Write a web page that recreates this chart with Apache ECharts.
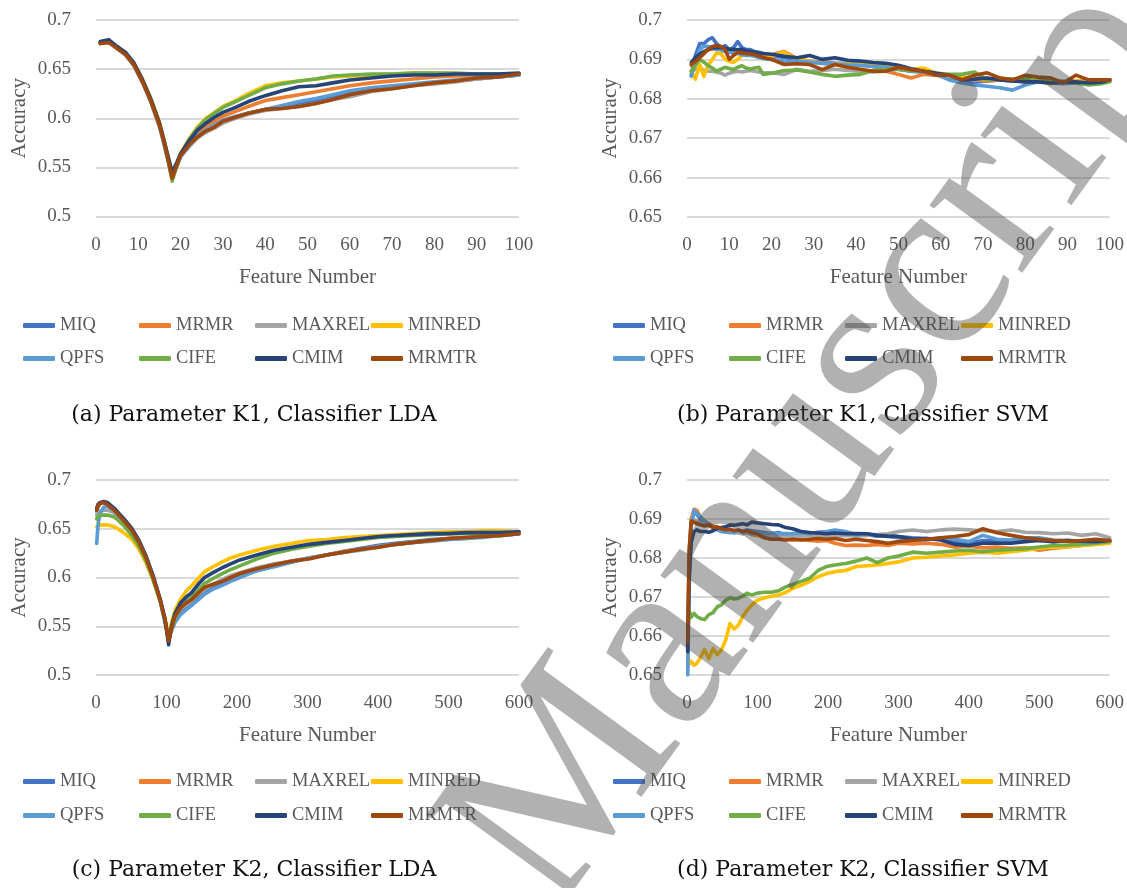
<!DOCTYPE html>
<html>
<head>
<meta charset="utf-8">
<script src="https://cdn.jsdelivr.net/npm/echarts@6/dist/echarts.min.js"></script>
<style>
  html, body { margin: 0; padding: 0; background: #ffffff; }
  #chart { width: 1127px; height: 888px; }
</style>
</head>
<body>
<div id="chart"></div>
<script>
// Feature-selection methods and their line colours
const methods = ['MIQ', 'MRMR', 'MAXREL', 'MINRED', 'QPFS', 'CIFE', 'CMIM', 'MRMTR'];
const methodColors = ['#4472C4', '#ED7D31', '#A5A5A5', '#FFC000', '#5B9BD5', '#70AD47', '#264478', '#9E480E'];

// ---------- (a) Parameter K1, Classifier LDA ----------
const featK1Lda = [1,3,5,7,9,11,13,15,16,17,18,19,20,22,24,26,28,30,33,36,40,44,48,52,56,60,65,70,75,80,85,90,95,100];
const k1LdaMIQ    = [0.677,0.679,0.672,0.665,0.654,0.637,0.617,0.592,0.576,0.558,0.540,0.551,0.562, 0.572,0.582,0.588,0.592,0.597,0.601,0.605,0.609,0.612,0.615,0.618,0.622,0.626,0.630,0.632,0.634,0.636,0.638,0.640,0.642,0.644];
const k1LdaMRMR   = [0.677,0.678,0.672,0.665,0.655,0.638,0.618,0.594,0.577,0.559,0.539,0.551,0.562, 0.575,0.585,0.592,0.597,0.602,0.607,0.612,0.618,0.621,0.624,0.627,0.630,0.633,0.636,0.638,0.640,0.642,0.643,0.643,0.644,0.645];
const k1LdaMAXREL = [0.676,0.678,0.671,0.664,0.653,0.636,0.616,0.591,0.575,0.557,0.540,0.550,0.561, 0.571,0.580,0.586,0.590,0.595,0.600,0.604,0.608,0.610,0.612,0.615,0.619,0.622,0.627,0.630,0.633,0.635,0.637,0.640,0.642,0.644];
const k1LdaMINRED = [0.677,0.679,0.673,0.666,0.656,0.640,0.620,0.596,0.579,0.561,0.539,0.553,0.564, 0.579,0.591,0.600,0.606,0.612,0.618,0.625,0.633,0.636,0.638,0.640,0.642,0.643,0.644,0.645,0.646,0.646,0.645,0.645,0.645,0.645];
const k1LdaQPFS   = [0.677,0.678,0.672,0.665,0.654,0.637,0.617,0.593,0.576,0.558,0.540,0.550,0.561, 0.572,0.582,0.588,0.593,0.598,0.602,0.605,0.609,0.613,0.617,0.620,0.624,0.628,0.631,0.633,0.635,0.637,0.639,0.641,0.642,0.644];
const k1LdaCIFE   = [0.677,0.678,0.672,0.665,0.655,0.638,0.618,0.594,0.577,0.558,0.536,0.550,0.563, 0.578,0.590,0.599,0.605,0.611,0.617,0.623,0.631,0.635,0.638,0.640,0.643,0.644,0.645,0.645,0.646,0.646,0.646,0.645,0.645,0.645];
const k1LdaCMIM   = [0.678,0.680,0.673,0.667,0.656,0.639,0.619,0.595,0.579,0.562,0.545,0.554,0.564, 0.577,0.588,0.595,0.601,0.606,0.611,0.617,0.623,0.628,0.632,0.633,0.636,0.639,0.641,0.643,0.644,0.644,0.645,0.645,0.645,0.646];
const k1LdaMRMTR  = [0.676,0.677,0.671,0.665,0.654,0.637,0.617,0.593,0.577,0.559,0.539,0.551,0.562, 0.573,0.581,0.587,0.591,0.597,0.601,0.605,0.609,0.610,0.612,0.615,0.619,0.624,0.628,0.630,0.633,0.636,0.638,0.641,0.642,0.645];

// ---------- (b) Parameter K1, Classifier SVM ----------
const featK1Svm = [1,2,3,4,5,6,7,8,9,10,11,12,13,14,15,16,17,18,20,23,26,29,32,35,38,41,44,47,50,53,56,59,62,65,68,71,74,77,80,83,86,89,92,95,98,100];
const k1SvmMIQ    = [0.686,0.691,0.694,0.694,0.695,0.6955,0.694,0.693,0.6935,0.6925, 0.693,0.6945,0.693,0.6925,0.6925,0.692,0.6918,0.6915, 0.691,0.6905,0.690,0.6895,0.6893,0.689,0.689,0.6888,0.6882,0.688, 0.6875,0.687,0.6868,0.686,0.6855,0.6845,0.6842,0.6845,0.6848,0.6845, 0.6845,0.6843,0.6845,0.6842,0.684,0.6843,0.6848,0.6848];
const k1SvmMRMR   = [0.6885,0.689,0.6905,0.6915,0.6925,0.6925,0.693,0.6925,0.692,0.6918, 0.692,0.692,0.6918,0.6915,0.6915,0.6915,0.691,0.6908, 0.6912,0.692,0.6902,0.6895,0.6892,0.6888,0.6888,0.6885,0.6883,0.687, 0.6862,0.6853,0.6862,0.686,0.6858,0.6852,0.6848,0.6845,0.6848,0.6848, 0.6848,0.6852,0.6848,0.684,0.6845,0.6845,0.6847,0.6848];
const k1SvmMAXREL = [0.687,0.6875,0.6878,0.6872,0.687,0.687,0.6868,0.6865,0.686,0.6865, 0.6868,0.687,0.6868,0.687,0.6872,0.687,0.6868,0.6866, 0.6866,0.6862,0.6875,0.687,0.6872,0.6875,0.6872,0.687,0.6868,0.687, 0.6875,0.6872,0.687,0.6862,0.6858,0.685,0.6848,0.685,0.685,0.6848, 0.685,0.6848,0.6847,0.6845,0.6845,0.6845,0.6848,0.6848];
const k1SvmMINRED = [0.687,0.685,0.6887,0.6857,0.6885,0.690,0.6916,0.6915,0.690,0.6895, 0.6893,0.690,0.691,0.6916,0.6912,0.691,0.6905,0.6905, 0.6908,0.6918,0.6898,0.6895,0.689,0.6888,0.6888,0.6887,0.6885,0.6882, 0.6878,0.6875,0.6878,0.6865,0.6858,0.6855,0.6852,0.685,0.685,0.6848, 0.685,0.6845,0.6838,0.6842,0.6845,0.6845,0.6847,0.6848];
const k1SvmQPFS   = [0.6857,0.6895,0.6925,0.6933,0.6933,0.693,0.6925,0.6925,0.692,0.6918, 0.6916,0.6915,0.6912,0.691,0.691,0.6908,0.6905,0.6902, 0.690,0.6895,0.6895,0.6893,0.689,0.6888,0.6886,0.6885,0.6882,0.688, 0.6875,0.687,0.6868,0.6862,0.6848,0.684,0.6835,0.6832,0.6828,0.6822, 0.6835,0.6843,0.684,0.6838,0.684,0.6842,0.6845,0.6845];
const k1SvmCIFE   = [0.687,0.6885,0.690,0.6893,0.6884,0.6878,0.687,0.6875,0.688,0.6877, 0.6874,0.688,0.6884,0.6878,0.6875,0.6878,0.688,0.6862, 0.6865,0.6872,0.6873,0.6868,0.6862,0.6857,0.686,0.6862,0.6872,0.6875, 0.6875,0.6872,0.687,0.6865,0.6862,0.6862,0.6868,0.6848,0.6852,0.685, 0.685,0.6848,0.6845,0.6842,0.684,0.6835,0.6838,0.6843];
const k1SvmCMIM   = [0.6892,0.6905,0.6913,0.692,0.6925,0.693,0.693,0.693,0.6928,0.6926, 0.6925,0.6925,0.6925,0.6922,0.692,0.6918,0.6916,0.6915, 0.6913,0.6908,0.6904,0.691,0.690,0.6904,0.6898,0.6896,0.6892,0.689, 0.6885,0.6876,0.687,0.6865,0.686,0.6848,0.685,0.6853,0.6848,0.6845, 0.6843,0.6843,0.684,0.6842,0.6843,0.684,0.6842,0.6848];
const k1SvmMRMTR  = [0.6887,0.6895,0.6904,0.6915,0.6925,0.6933,0.6935,0.6933,0.6925,0.690, 0.691,0.6918,0.6916,0.6915,0.6914,0.6912,0.6908,0.6905, 0.690,0.6887,0.6889,0.6887,0.6874,0.6887,0.688,0.6875,0.687,0.687, 0.688,0.6874,0.687,0.686,0.686,0.6848,0.686,0.6866,0.6853,0.6848, 0.686,0.6855,0.6853,0.684,0.686,0.6848,0.6848,0.6848];

// ---------- (c) Parameter K2, Classifier LDA ----------
const featK2Lda = [1,3,6,11,16,21,26,31,41,51,61,71,81,91,98,103,107,112,120,128,135,145,154,166,179,191,204,228,253,278,302,327,352,376,401,425,450,475,500,525,549,575,600];
const k2LdaMIQ    = [0.668,0.673,0.676,0.677,0.675,0.672,0.669,0.665,0.657,0.648,0.636,0.620,0.600,0.577,0.555,0.535, 0.546,0.556,0.565,0.570,0.573, 0.579,0.585,0.590,0.594,0.598,0.602,0.607,0.612,0.616,0.620,0.623,0.627,0.630,0.633,0.635,0.637,0.639,0.640,0.641,0.642,0.643,0.645];
const k2LdaMRMR   = [0.670,0.675,0.676,0.677,0.675,0.672,0.669,0.665,0.657,0.648,0.636,0.620,0.600,0.577,0.556,0.535, 0.548,0.559,0.568,0.573,0.576, 0.583,0.589,0.593,0.597,0.601,0.604,0.609,0.613,0.617,0.620,0.623,0.627,0.629,0.632,0.634,0.636,0.638,0.640,0.641,0.643,0.644,0.645];
const k2LdaMAXREL = [0.664,0.667,0.668,0.669,0.669,0.668,0.666,0.663,0.656,0.646,0.634,0.619,0.599,0.576,0.555,0.536, 0.547,0.559,0.568,0.572,0.576, 0.583,0.588,0.593,0.598,0.602,0.605,0.610,0.614,0.617,0.620,0.623,0.626,0.628,0.631,0.634,0.636,0.637,0.639,0.640,0.642,0.643,0.645];
const k2LdaMINRED = [0.652,0.654,0.654,0.654,0.654,0.653,0.652,0.650,0.645,0.639,0.629,0.615,0.597,0.576,0.557,0.540, 0.553,0.566,0.578,0.586,0.591, 0.599,0.606,0.611,0.616,0.620,0.623,0.628,0.632,0.635,0.638,0.639,0.641,0.642,0.643,0.644,0.645,0.646,0.647,0.647,0.648,0.648,0.647];
const k2LdaQPFS   = [0.635,0.655,0.666,0.672,0.673,0.671,0.668,0.664,0.656,0.647,0.635,0.619,0.599,0.576,0.553,0.538, 0.545,0.554,0.562,0.567,0.571, 0.577,0.583,0.588,0.592,0.596,0.600,0.607,0.611,0.616,0.620,0.623,0.626,0.629,0.632,0.634,0.636,0.638,0.639,0.640,0.641,0.643,0.645];
const k2LdaCIFE   = [0.660,0.663,0.664,0.664,0.664,0.663,0.662,0.659,0.652,0.643,0.632,0.617,0.598,0.576,0.556,0.537, 0.546,0.558,0.569,0.575,0.579, 0.587,0.594,0.599,0.604,0.608,0.612,0.619,0.625,0.629,0.632,0.635,0.637,0.639,0.641,0.642,0.643,0.644,0.645,0.645,0.646,0.646,0.646];
const k2LdaCMIM   = [0.671,0.675,0.677,0.678,0.677,0.674,0.671,0.667,0.659,0.650,0.638,0.622,0.602,0.578,0.557,0.531, 0.550,0.563,0.574,0.580,0.584, 0.593,0.600,0.605,0.610,0.614,0.618,0.623,0.628,0.631,0.634,0.636,0.638,0.640,0.642,0.643,0.644,0.645,0.645,0.646,0.646,0.646,0.647];
const k2LdaMRMTR  = [0.669,0.674,0.676,0.677,0.675,0.672,0.669,0.665,0.657,0.648,0.636,0.620,0.600,0.577,0.556,0.535, 0.548,0.560,0.569,0.574,0.577, 0.584,0.590,0.593,0.596,0.600,0.604,0.609,0.613,0.617,0.619,0.623,0.626,0.629,0.631,0.634,0.636,0.638,0.640,0.641,0.642,0.643,0.645];

// ---------- (d) Parameter K2, Classifier SVM ----------
const featK2Svm = [1,3,6,10,14,19,25,31,37,43,49,55,61,67,73,79,85,92,100,110,120,130,140,150,162,174,186,198,210,225,240,255,270,285,300,320,340,360,380,400,420,440,460,480,500,520,540,560,580,600];
const k2SvmMIQ    = [0.652,0.678,0.689,0.6918,0.6912,0.690,0.6893,0.6885,0.688,0.6875, 0.6868,0.6868,0.6865,0.6868,0.687,0.6868,0.6872,0.687,0.6868,0.6865, 0.6862,0.6865,0.686,0.6862,0.6865,0.6862,0.6865,0.6866,0.6868,0.6866, 0.6858,0.686,0.6856,0.6858,0.6855,0.6852,0.685,0.6848,0.6842,0.6838, 0.6845,0.6845,0.6842,0.6848,0.6845,0.6842,0.6845,0.6842,0.6843,0.6843];
const k2SvmMRMR   = [0.656,0.681,0.690,0.6925,0.6922,0.6905,0.6895,0.6888,0.6882,0.6878, 0.6872,0.6868,0.6866,0.6868,0.6865,0.6862,0.6865,0.686,0.6858,0.6852, 0.6848,0.685,0.6848,0.6846,0.6848,0.6845,0.6843,0.6845,0.6838,0.6832, 0.6833,0.6832,0.6835,0.6832,0.6838,0.6836,0.6838,0.6835,0.6828,0.683, 0.6826,0.6828,0.6825,0.6826,0.682,0.6825,0.6828,0.6832,0.6836,0.6842];
const k2SvmMAXREL = [0.657,0.679,0.6885,0.6898,0.6895,0.689,0.6885,0.6882,0.6878,0.6875, 0.6872,0.6868,0.6866,0.6865,0.6866,0.6862,0.6865,0.6862,0.686,0.6858, 0.6856,0.6858,0.6856,0.6855,0.6856,0.6858,0.6855,0.6856,0.6855,0.6858, 0.6856,0.6858,0.686,0.6862,0.6868,0.6872,0.6868,0.6872,0.6874,0.6872, 0.687,0.6868,0.6872,0.6866,0.6865,0.6862,0.6864,0.6858,0.6862,0.6852];
const k2SvmMINRED = [0.6555,0.6528,0.6535,0.6525,0.653,0.6545,0.6565,0.6542,0.6568,0.6552, 0.6565,0.659,0.6632,0.6618,0.6628,0.665,0.6665,0.668,0.6692,0.6698, 0.6702,0.6705,0.6712,0.6722,0.673,0.674,0.6752,0.676,0.6765,0.6768, 0.6778,0.678,0.6782,0.6786,0.679,0.680,0.6802,0.6805,0.6808,0.6812, 0.6815,0.6812,0.6816,0.682,0.6825,0.6828,0.6829,0.6832,0.6835,0.6838];
const k2SvmQPFS   = [0.650,0.672,0.688,0.6922,0.6915,0.6905,0.6895,0.6885,0.6878,0.6872, 0.6868,0.6866,0.6868,0.6865,0.6868,0.6866,0.6868,0.6865,0.6866,0.6862, 0.6864,0.6862,0.6863,0.6862,0.6864,0.6862,0.6866,0.6868,0.6872,0.6868, 0.686,0.6862,0.6858,0.6855,0.6852,0.6847,0.6846,0.6852,0.6848,0.6842, 0.6858,0.6848,0.6846,0.6852,0.6852,0.6846,0.6845,0.6843,0.6842,0.6845];
const k2SvmCIFE   = [0.6625,0.6665,0.6648,0.6658,0.665,0.6645,0.6642,0.6655,0.666,0.6675, 0.668,0.6692,0.6698,0.6695,0.6697,0.6702,0.671,0.6705,0.671,0.6712, 0.6712,0.6716,0.6726,0.6732,0.674,0.6748,0.6768,0.6778,0.6782,0.6786, 0.6792,0.680,0.6788,0.680,0.6805,0.6815,0.6812,0.6815,0.6818,0.682, 0.6816,0.682,0.6822,0.6824,0.6828,0.6832,0.6833,0.6835,0.6838,0.6842];
const k2SvmCMIM   = [0.656,0.675,0.684,0.6868,0.6872,0.6868,0.6868,0.6866,0.687,0.6876, 0.6878,0.688,0.6885,0.6884,0.6886,0.6888,0.6885,0.6892,0.689,0.6888, 0.6886,0.6885,0.6878,0.6875,0.6868,0.6865,0.6864,0.6862,0.6864,0.6862, 0.6863,0.6862,0.6858,0.6856,0.6855,0.6848,0.685,0.6846,0.6835,0.6832, 0.6838,0.6838,0.6838,0.6842,0.6845,0.6842,0.6845,0.6843,0.6842,0.6845];
const k2SvmMRMTR  = [0.6585,0.682,0.6895,0.6892,0.6888,0.6885,0.6882,0.6885,0.6878,0.688, 0.6875,0.6872,0.6874,0.687,0.6872,0.6868,0.687,0.6865,0.6862,0.6852, 0.6848,0.6848,0.6846,0.6848,0.6846,0.6848,0.685,0.6848,0.685,0.6845, 0.6848,0.6845,0.6842,0.6838,0.6842,0.6845,0.6848,0.6852,0.6855,0.686, 0.6875,0.6865,0.6858,0.6852,0.6848,0.6845,0.6843,0.6845,0.6848,0.6845];

// Panel layout: which arrays go in which grid, plus axis ranges and captions
const panels = [
  { xs: featK1Lda, ys: [k1LdaMIQ,k1LdaMRMR,k1LdaMAXREL,k1LdaMINRED,k1LdaQPFS,k1LdaCIFE,k1LdaCMIM,k1LdaMRMTR],
    grid: { left: 96, top: 20, width: 423, height: 196.5 }, yMin: 0.5, yMax: 0.7, yStep: 0.05, xMax: 100, xStep: 10,
    legendLeft: 23, legendTops: [316, 349], caption: '(a) Parameter K1, Classifier LDA', capX: 254, capY: 415 },
  { xs: featK1Svm, ys: [k1SvmMIQ,k1SvmMRMR,k1SvmMAXREL,k1SvmMINRED,k1SvmQPFS,k1SvmCIFE,k1SvmCMIM,k1SvmMRMTR],
    grid: { left: 687, top: 20, width: 423, height: 197 }, yMin: 0.65, yMax: 0.7, yStep: 0.01, xMax: 100, xStep: 10,
    legendLeft: 613, legendTops: [316, 349], caption: '(b) Parameter K1, Classifier SVM', capX: 863, capY: 415 },
  { xs: featK2Lda, ys: [k2LdaMIQ,k2LdaMRMR,k2LdaMAXREL,k2LdaMINRED,k2LdaQPFS,k2LdaCIFE,k2LdaCMIM,k2LdaMRMTR],
    grid: { left: 96, top: 480, width: 423, height: 195 }, yMin: 0.5, yMax: 0.7, yStep: 0.05, xMax: 600, xStep: 100,
    legendLeft: 23, legendTops: [772, 806], caption: '(c) Parameter K2, Classifier LDA', capX: 254, capY: 870 },
  { xs: featK2Svm, ys: [k2SvmMIQ,k2SvmMRMR,k2SvmMAXREL,k2SvmMINRED,k2SvmQPFS,k2SvmCIFE,k2SvmCMIM,k2SvmMRMTR],
    grid: { left: 687, top: 480, width: 423, height: 195 }, yMin: 0.65, yMax: 0.7, yStep: 0.01, xMax: 600, xStep: 100,
    legendLeft: 613, legendTops: [772, 806], caption: '(d) Parameter K2, Classifier SVM', capX: 863, capY: 870 }
];

const serif = '"Liberation Serif", "Times New Roman", serif';
const axisGrey = '#595959';
const legendPitch = 116;

const option = {
  animation: false,
  backgroundColor: '#ffffff',
  grid: [], xAxis: [], yAxis: [], series: [], legend: [], graphic: []
};

panels.forEach((p, i) => {
  option.grid.push(Object.assign({ containLabel: false }, p.grid));
  option.xAxis.push({
    type: 'value', gridIndex: i, min: 0, max: p.xMax, interval: p.xStep,
    axisLine: { show: false }, axisTick: { show: false }, splitLine: { show: false },
    axisLabel: { color: axisGrey, fontSize: 19, fontFamily: serif, margin: 19 },
    name: 'Feature Number', nameLocation: 'middle', nameGap: 50,
    nameTextStyle: { color: axisGrey, fontSize: 21, fontFamily: serif }
  });
  option.yAxis.push({
    type: 'value', gridIndex: i, min: p.yMin, max: p.yMax, interval: p.yStep,
    axisLine: { show: false }, axisTick: { show: false },
    splitLine: { show: true, lineStyle: { color: '#cccccc', width: 1.6 } },
    axisLabel: { color: axisGrey, fontSize: 19, fontFamily: serif, margin: 25 },
    name: 'Accuracy', nameLocation: 'middle', nameRotate: 90, nameGap: 66,
    nameTextStyle: { color: axisGrey, fontSize: 21, fontFamily: serif }
  });
  methods.forEach((m, k) => {
    option.series.push({
      type: 'line', name: m, xAxisIndex: i, yAxisIndex: i,
      data: p.xs.map((x, j) => [x, p.ys[k][j]]),
      symbol: 'none', showSymbol: false, silent: true,
      lineStyle: { width: 3.6, color: methodColors[k], join: 'round', cap: 'round' },
      itemStyle: { color: methodColors[k] }
    });
    // legend entries on a fixed 4-column grid, two rows
    option.legend.push({
      left: p.legendLeft + (k % 4) * legendPitch, top: p.legendTops[Math.floor(k / 4)],
      orient: 'horizontal', padding: 0, data: [m],
      icon: 'roundRect', itemWidth: 32, itemHeight: 5, selectedMode: false,
      textStyle: { color: axisGrey, fontSize: 18.5, fontFamily: serif }
    });
  });
  option.graphic.push({
    type: 'text', x: p.capX, y: p.capY, z: 10,
    style: { text: p.caption, font: '22px "DejaVu Serif"', fill: '#111111',
             textAlign: 'center', textVerticalAlign: 'middle' }
  });
});

// Diagonal "Manuscript" stamp across the page
option.graphic.push({
  type: 'text', x: 602, y: 952, rotation: 54 * Math.PI / 180, z: 100,
  style: { text: 'Manuscript', font: '250px "Liberation Serif"', fill: 'rgba(70,70,70,0.42)',
           textAlign: 'left', textVerticalAlign: 'bottom' }
});

const chart = echarts.init(document.getElementById('chart'), null, { renderer: 'canvas' });
chart.setOption(option);
</script>
</body>
</html>
